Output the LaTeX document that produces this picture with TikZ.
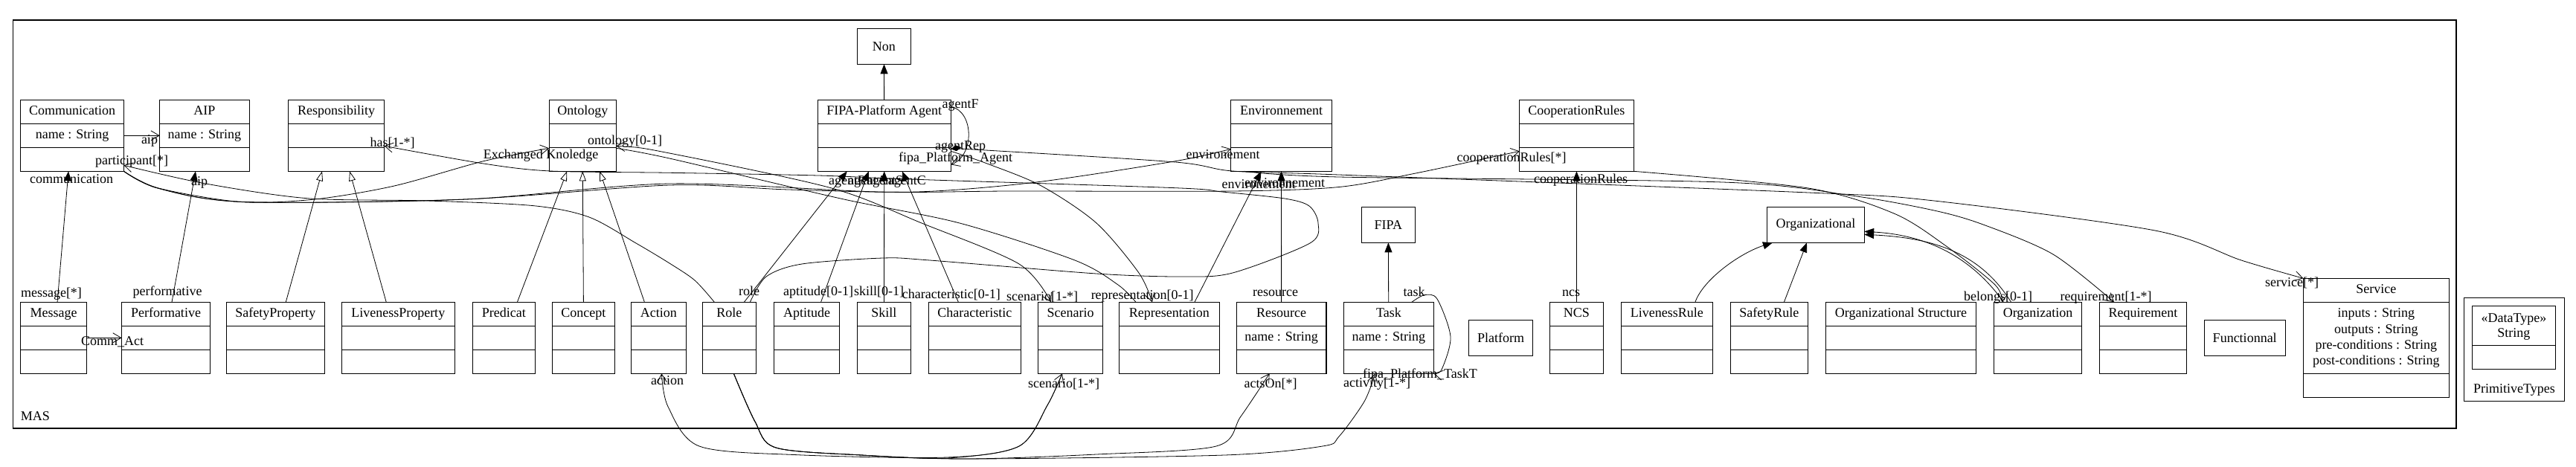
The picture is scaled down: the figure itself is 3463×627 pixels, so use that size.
\documentclass[tikz,border=0pt]{standalone}
\usepackage{fontspec}
\setmainfont{Liberation Serif}
\usetikzlibrary{arrows.meta}

% classe UML a trois compartiments : nom, x gauche, x droit, y haut, titre, attribut
\newcommand{\classeUML}[6]{%
  \node[boite, minimum width={#3-#2}, minimum height=96] (#1) at ({(#2+#3)/2},{#4+48}) {};
  \draw[trait] ({#2},{#4+32}) -- ({#3},{#4+32});
  \draw[trait] ({#2},{#4+64}) -- ({#3},{#4+64});
  \node[texte] (#1-t) at ({(#2+#3)/2},{#4+16}) {#5};
  \node[texte] (#1-a) at ({(#2+#3)/2},{#4+48}) {#6};
}
% boite simple : nom, x gauche, x droit, y haut, y bas, texte
\newcommand{\boiteSimple}[6]{%
  \node[boite, minimum width={#3-#2}, minimum height={#5-#4}] (#1) at ({(#2+#3)/2},{(#4+#5)/2}) {#6};
}

\begin{document}
\begin{tikzpicture}[x=1pt, y=-1pt,
    boite/.style={draw, line width=1.2pt, inner sep=0pt, outer sep=0pt, font=\fontsize{18}{21}\selectfont},
    texte/.style={inner sep=0pt, font=\fontsize{18}{21}\selectfont, text height=12pt, text depth=4pt},
    trait/.style={line width=1.2pt},
    lien/.style={line width=0.8pt},
    nav/.style={lien, -{Straight Barb[length=11pt,width=13pt]}},
    plein/.style={lien, -{Triangle[length=13pt,width=10pt]}},
    herite/.style={lien, -{Triangle[open,length=13pt,width=9pt,fill=white]}}]

  \useasboundingbox (0,0) rectangle (3463,627);

  % Paquetage MAS
  \node[boite, minimum width=3284.8, minimum height=549] (mas) at (1659.6,301.5) {};
  \node[texte, anchor=west] (mas-t) at (27.6,561.7) {MAS};

  % Rangee du haut
  \classeUML{comm}{27.6}{166.5}{134.3}{Communication}{name : String}
  \classeUML{aip}{214.7}{335.2}{134.3}{AIP}{name : String}
  \classeUML{resp}{387.5}{516.6}{134.3}{Responsibility}{}
  \classeUML{onto}{738.2}{828.3}{134.3}{Ontology}{}
  \classeUML{agent}{1099.2}{1278.3}{134.3}{FIPA-Platform Agent}{}
  \classeUML{env}{1654.8}{1790.3}{134.3}{Environnement}{}
  \classeUML{coop}{2042.8}{2196.1}{134.3}{CooperationRules}{}
  \boiteSimple{non}{1152.6}{1224.3}{38.3}{86.3}{Non}
  \boiteSimple{fipa}{1830.4}{1902.2}{278.3}{326.3}{FIPA}
  \boiteSimple{orgal}{2375.8}{2506.1}{278.3}{326.3}{Organizational}

  % Rangee du bas
  \classeUML{msg}{27.6}{116.5}{406.3}{Message}{}
  \classeUML{perf}{163.6}{282.4}{406.3}{Performative}{}
  \classeUML{safp}{304.2}{436.3}{406.3}{SafetyProperty}{}
  \classeUML{livp}{459.2}{611.3}{406.3}{LivenessProperty}{}
  \classeUML{pred}{635.5}{719.3}{406.3}{Predicat}{}
  \classeUML{conc}{742.2}{826.6}{406.3}{Concept}{}
  \classeUML{act}{848.4}{922.4}{406.3}{Action}{}
  \classeUML{role}{944.2}{1016.5}{406.3}{Role}{}
  \classeUML{apt}{1040.6}{1128.5}{406.3}{Aptitude}{}
  \classeUML{skill}{1152.6}{1224.3}{406.3}{Skill}{}
  \classeUML{carac}{1248.4}{1372.4}{406.3}{Characteristic}{}
  \classeUML{scen}{1395.4}{1482.6}{406.3}{Scenario}{}
  \classeUML{repr}{1504.5}{1639.4}{406.3}{Representation}{}
  \classeUML{res}{1662.3}{1782.9}{406.3}{Resource}{name : String}
  \classeUML{task}{1806.3}{1927.4}{406.3}{Task}{name : String}
  \boiteSimple{plat}{1974.5}{2060.6}{430.3}{478.3}{Platform}
  \classeUML{ncs}{2083.6}{2155.3}{406.3}{NCS}{}
  \classeUML{livr}{2179.4}{2302.3}{406.3}{LivenessRule}{}
  \classeUML{safr}{2326.4}{2430.3}{406.3}{SafetyRule}{}
  \classeUML{orgs}{2454.4}{2656.5}{406.3}{Organizational Structure}{}
  \classeUML{org}{2680.4}{2798.7}{406.3}{Organization}{}
  \classeUML{req}{2822.3}{2939.6}{406.3}{Requirement}{}
  \boiteSimple{func}{2963.2}{3072.2}{430.3}{478.3}{Functionnal}

  % Service
  \node[boite, minimum width=196, minimum height=160] (serv) at (3194.4,454.3) {};
  \draw[trait] (3096.4,406.3) -- (3292.4,406.3);
  \draw[trait] (3096.4,502.3) -- (3292.4,502.3);
  \node[texte] (serv-t) at (3194.4,390.3) {Service};
  \node[texte] (serv-a1) at (3194.4,422.7) {inputs : String};
  \node[texte] (serv-a2) at (3194.4,444.3) {outputs : String};
  \node[texte] (serv-a3) at (3194.4,465.7) {pre-conditions : String};
  \node[texte] (serv-a4) at (3194.4,486.7) {post-conditions : String};

  % PrimitiveTypes
  \node[boite, minimum width=134.9, minimum height=139] (prim) at (3380.2,469.8) {};
  \node[boite, minimum width=112.3, minimum height=85] (dtype) at (3379.4,453.8) {};
  \draw[trait] (3323.2,464.3) -- (3435.5,464.3);
  \node[texte] (dtype-s) at (3379.4,429.3) {«DataType»};
  \node[texte] (dtype-t) at (3379.4,449.3) {String};
  \node[texte] (prim-t) at (3380,524.3) {PrimitiveTypes};

  % Heritages
  \draw[herite] ([xshift=14]safp.north) -- ([xshift=-19]resp.south);
  \draw[herite] ([xshift=-16]livp.north) -- ([xshift=18]resp.south);
  \draw[herite] ([xshift=18]pred.north) -- ([xshift=-21]onto.south);
  \draw[herite] (conc.north) -- (onto.south);
  \draw[herite] ([xshift=-19]act.north) -- ([xshift=23]onto.south);

  % Associations courtes
  \draw[nav] (comm) -- (aip);
  \draw[plein] ([xshift=5]msg.north) -- ([xshift=-5]comm.south);
  \draw[plein] ([xshift=8]perf.north) -- ([xshift=-12]aip.south);
  \draw[nav] (msg) -- (perf);
  \draw[plein] (agent) -- (non);
  \draw[plein] (task) -- (fipa);
  \draw[plein] ([xshift=38]livr.north) .. controls (2290,375) and (2340,340) .. ([xshift=-58]orgal.south);
  \draw[plein] ([xshift=20]safr.north) -- ([xshift=-12]orgal.south);
  \draw[plein] ([xshift=-46]org.north) .. controls (2650,345) and (2590,316) .. ([yshift=-9]orgal.east);
  \draw[plein] ([xshift=-36]org.north) .. controls (2662,340) and (2600,320) .. ([yshift=-13]orgal.east);
  \draw[plein] ([xshift=20]role.north) -- ([xshift=-50]agent.south);
  \draw[plein] ([xshift=19]apt.north) -- ([xshift=-21]agent.south);
  \draw[plein] (skill) -- (agent);
  \draw[plein] ([xshift=-22]carac.north) -- ([xshift=24]agent.south);
  \draw[plein] ([xshift=34]repr.north) -- ([xshift=-27]env.south);
  \draw[plein] (res) -- (env);
  \draw[plein] (ncs) -- (coop);
  \draw[nav] ([yshift=39]agent.east) .. controls (1310,150) and (1310,210) .. ([yshift=-39]agent.east);

  % Associations longues
  \draw[nav] plot[smooth] coordinates {(comm.south east) (213,253) (323,271.5) (423,268) (530,250) (650,216.7) ([yshift=-17]onto.west)};
  \draw[nav] plot[smooth] coordinates {(comm.south east) (212,253) (327,271.5) (626,268) (900,249) (1060,255) (1233,258) (1393,245) (1580,216.7) ([yshift=-18]env.west)};
  \draw[nav] plot[smooth] coordinates {(comm.south east) (212,253) (327,271.5) (626,268) (900,247) (1181,258) (1359,257) (1657,257) (1800,251.5) (1903,233) ([yshift=-21]coop.west)};
  \draw[nav] plot[smooth] coordinates {([xshift=-20]role.north) (934,377) (900,354) (855,327) (792,292) (717.6,276.7) (574,270) (413,266.7) (275,246.7) ([yshift=-40]comm.east)};
  \draw[nav] plot[smooth] coordinates {([xshift=28]role.north) (1030,372) (1078,355) (1187,347) (1250,350) (1474,368) (1589,372) (1657,367) (1761,327) (1772,300) (1760,277) (1727,267) (1643,258) (1580,252.7) (1223,241) (1100,236) (900,232.3) (740,230) (650,220) ([yshift=-14]resp.east)};
  \draw[lien, {Straight Barb[length=11pt,width=13pt]}-{Straight Barb[length=11pt,width=13pt]}] plot[smooth] coordinates {([yshift=-14]onto.east) (900,206) (1118,253) (1239,300) (1370,355) ([xshift=-26]scen.north)};
  \draw[lien] plot[smooth] coordinates {([yshift=-17]onto.east) (900,213) (1130,267) (1290,300) (1445,350) (1503,383) ([xshift=-45]repr.north)};
  \draw[nav] plot[smooth] coordinates {([yshift=-21]agent.east) (1327,220) (1400,250) (1474,300) (1531,367) ([xshift=-23]repr.north)};
  \draw[lien, {Diamond[length=14pt,width=8pt]}-{Straight Barb[length=11pt,width=13pt]}] plot[smooth] coordinates {([yshift=-18]agent.east) (1325,202) (1580,218) (1657,230) (1800,235) (2431,259) (2600,270) (2897,310) (3013,350) (serv.north west)};
  \draw[nav] plot[smooth] coordinates {([xshift=-50]env.south) (1800,238) (2316,245) (2489,263) (2600,283) (2666,302) (2760,342) ([xshift=-39]req.north)};
  \draw[nav] plot[smooth] coordinates {(coop.south east) (2431,253) (2546,287) (2615,330) (2682,383) ([xshift=-48]org.north)};
  \draw[nav] plot[smooth] coordinates {([xshift=31]task.north) (1914.8,396.7) (1932,402) (1950,453) (1938,497) (task.south east)};

  % Associations du bas
  \draw[nav] plot[smooth] coordinates {([xshift=6]role.south) (1015,567) (1043,602) (1158,612) (1273,616) (1370,600) (1408,545) ([xshift=-11]scen.south)};
  \draw[nav] plot[smooth] coordinates {([xshift=6]role.south) (1015,567) (1043,602) (1158,612) (1300,617) (1474,611) (1635,600) (1668,560) ([xshift=-16]res.south)};
  \draw[nav] plot[smooth] coordinates {([xshift=6]role.south) (1015,567) (1043,602) (1158,612) (1302,617) (1646,612) (1778,600) (1800,587) (1834,540) ([xshift=-18]task.south)};
  \draw[nav] plot[smooth] coordinates {([xshift=-11]scen.south) (1408,545) (1370,600) (1273,615) (1072,611.7) (940,600) (898,546.7) ([xshift=4]act.south)};

  % Roles des associations
  \node[texte] (l-aip1) at (201,189) {aip};
  \node[texte] (l-part) at (177,217) {participant[*]};
  \node[texte] (l-comm) at (96,242) {communication};
  \node[texte] (l-aip2) at (268,245) {aip};
  \node[texte] (l-has) at (527.5,193) {has[1-*]};
  \node[texte] (l-exk) at (727,209) {Exchanged Knoledge};
  \node[texte] (l-onto) at (840,190) {ontology[0-1]};
  \node[texte] (l-agf) at (1291,141) {agentF};
  \node[texte] (l-agrep) at (1291,197) {agentRep};
  \node[texte] (l-fpa) at (1284.7,213) {fipa\_Platform\_Agent};
  \node[texte, anchor=west] (l-agr) at (1114,244) {agentR};
  \node[texte, anchor=west] (l-aga) at (1140,244) {agentA};
  \node[texte, anchor=west] (l-ags) at (1165,244) {agentS};
  \node[texte, anchor=east] (l-agc) at (1245,244) {agentC};
  \node[texte] (l-env1) at (1644,209) {environement};
  \node[texte] (l-env2) at (1692,249) {environement};
  \node[texte] (l-env3) at (1727,247) {environnement};
  \node[texte] (l-coop1) at (2032,213) {cooperationRules[*]};
  \node[texte] (l-coop2) at (2125,242.7) {cooperationRules};
  \node[texte] (l-msg) at (69,395) {message[*]};
  \node[texte] (l-perf) at (225,393) {performative};
  \node[texte] (l-cact) at (151,460) {Comm\_Act};
  \node[texte] (l-action) at (897,513) {action};
  \node[texte] (l-role) at (1007,393) {role};
  \node[texte] (l-apt) at (1100,393) {aptitude[0-1]};
  \node[texte] (l-skill) at (1181.6,393) {skill[0-1]};
  \node[texte] (l-carac) at (1278.8,397) {characteristic[0-1]};
  \node[texte] (l-scen1) at (1401,400) {scenario[1-*]};
  \node[texte] (l-repr) at (1535.7,398) {representation[0-1]};
  \node[texte] (l-res) at (1714.6,394) {resource};
  \node[texte] (l-scen2) at (1430,517) {scenario[1-*]};
  \node[texte] (l-acts) at (1708,517) {actsOn[*]};
  \node[texte] (l-task) at (1901,394) {task};
  \node[texte] (l-fpt) at (1909,504) {fipa\_Platform\_TaskT};
  \node[texte] (l-activ) at (1851,516.7) {activity[1-*]};
  \node[texte] (l-ncs) at (2112,394) {ncs};
  \node[texte] (l-bel) at (2686,400) {belongs[0-1]};
  \node[texte] (l-req) at (2831,400) {requirement[1-*]};
  \node[texte] (l-serv) at (3081,381) {service[*]};
\end{tikzpicture}
\end{document}
